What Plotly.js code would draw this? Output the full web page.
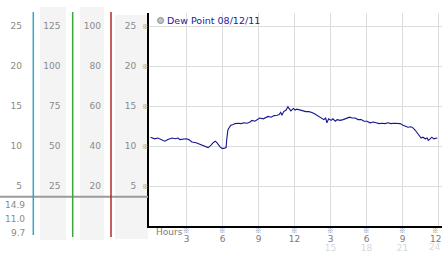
<!DOCTYPE html>
<html>
<head>
<meta charset="utf-8">
<script src="https://cdn.plot.ly/plotly-3.0.1.min.js"></script>
<style>html,body{margin:0;padding:0;background:#fff;}#chart{width:442px;height:253px;}</style>
</head>
<body>
<div id="chart"></div>
<script>
// ---- data ----
const seriesName = "Dew Point 08/12/11";
const hours = [0.0,0.35,0.6,0.95,1.2,1.45,1.8,2.05,2.3,2.45,2.7,2.95,3.2,3.45,3.8,4.1,4.45,4.8,5.05,5.2,5.4,5.55,5.8,5.95,6.1,6.3,6.35,6.45,6.6,6.7,6.9,7.05,7.3,7.55,7.8,8.05,8.3,8.45,8.7,8.95,9.1,9.4,9.6,9.8,10.05,10.3,10.55,10.7,10.85,10.95,11.1,11.3,11.45,11.6,11.7,11.9,12.05,12.2,12.45,12.7,12.95,13.2,13.45,13.7,13.95,14.2,14.45,14.6,14.7,14.85,15.05,15.2,15.4,15.55,15.8,16.05,16.2,16.45,16.6,16.8,17.05,17.3,17.55,17.8,18.05,18.3,18.55,18.8,19.05,19.3,19.55,19.8,20.05,20.3,20.55,20.8,21.05,21.3,21.45,21.7,21.85,22.05,22.2,22.4,22.55,22.7,22.9,23.05,23.15,23.3,23.45,23.6,23.8,23.9];
const dewPoint = [11.1,10.9,11.0,10.8,10.6,10.8,11.0,10.9,11.0,10.8,10.85,10.9,10.8,10.5,10.4,10.2,10.0,9.8,10.1,10.4,10.6,10.4,9.9,9.7,9.7,9.8,10.8,12.0,12.4,12.6,12.7,12.8,12.85,12.8,12.9,12.85,13.0,13.2,13.1,13.3,13.5,13.4,13.6,13.7,13.6,13.8,13.85,13.9,14.2,13.85,14.3,14.5,14.9,14.6,14.4,14.7,14.5,14.6,14.5,14.4,14.3,14.3,14.2,14.0,13.8,13.6,13.3,13.5,12.9,13.4,13.2,13.4,13.1,13.3,13.2,13.3,13.4,13.5,13.6,13.5,13.5,13.3,13.3,13.1,13.1,12.9,13.0,12.9,12.8,12.85,12.8,12.9,12.8,12.85,12.8,12.8,12.6,12.5,12.35,12.4,12.3,12.0,11.7,11.2,11.0,11.1,10.9,11.0,10.7,10.9,11.1,10.9,11.0,11.0];

const hourTicks = [3,6,9,12,15,18,21,24];
const hourLabels = ["3","6","9","12","3","6","9","12"];
const hourTicks24 = [15,18,21,24];
const hourLabels24 = ["15","18","21","24"];
const mainTicks = [5,10,15,20,25];
const col1Ticks = [5,10,15,20,25];
const col2Ticks = [25,50,75,100,125];
const col3Ticks = [20,40,60,80,100];
const summaryLabels = ["14.9","11.0","9.7"];
const xLabel = "Hours";

// ---- geometry helpers (pixels -> paper) ----
const W = 442, H = 253;
const px = x => x / W;
const py = y => 1 - y / H;
const FONT = "DejaVu Sans";
const yMax = 26.625;
const yDom = [py(226), py(13)];

const trace = {
  x: hours, y: dewPoint, name: seriesName, type: "scatter", mode: "lines",
  line: {color: "#16168e", width: 1.1}, showlegend: false, hoverinfo: "skip"
};

function freeY(pos, ticks, factor) {
  return {
    overlaying: "y", anchor: "free", position: pos, side: "left",
    range: [0, yMax * factor], tickvals: ticks, ticktext: ticks.map(String),
    showgrid: false, zeroline: false, showline: false, ticks: "",
    tickfont: {family: FONT, size: 9, color: "#8a8a8a"}, fixedrange: true
  };
}

const xRange = [-1.5 / 12, (442 - 150.5) / 12];
const dark = {family: FONT, size: 9, color: "#7a7a7a"};
const light = {family: FONT, size: 9, color: "#d8d8d8"};
const nMain = hourTicks.length - 1, n24 = hourTicks24.length - 1;
const endShift = -3.5;

const MARK = "\u203b";
const markFont = {family: "Noto Sans CJK JP", size: 6.5, color: "#8c8c8c"};
const annotations = [];
// summary values
const sumY = [204.7, 218.7, 232.7];
summaryLabels.forEach((t, i) => annotations.push({
  text: t, xref: "paper", yref: "paper", x: px(27), y: py(sumY[i]),
  xanchor: "right", yanchor: "middle", showarrow: false,
  font: {family: FONT, size: 9, color: "#8a8a8a"}
}));
// y tick marks
mainTicks.forEach(v => annotations.push({
  text: MARK, xref: "paper", yref: "y", x: px(145.5), y: v,
  xanchor: "center", yanchor: "middle", showarrow: false, font: markFont
}));
// x tick marks
hourTicks.forEach((v, i) => annotations.push({
  text: MARK, xref: "x", yref: "paper", x: v, y: py(229.6), xshift: i === nMain ? endShift : 0,
  xanchor: "center", yanchor: "middle", showarrow: false, font: markFont
}));
// last tick labels, nudged inside the picture edge
annotations.push({
  text: hourLabels[nMain], xref: "x", yref: "paper", x: hourTicks[nMain], y: py(238.8),
  xshift: endShift, xanchor: "center", yanchor: "middle", showarrow: false, font: dark
});
annotations.push({
  text: hourLabels24[n24], xref: "x", yref: "paper", x: hourTicks24[n24], y: py(247.2),
  xshift: endShift, xanchor: "center", yanchor: "middle", showarrow: false, font: light
});
annotations.push({
  text: xLabel, xref: "paper", yref: "paper", x: px(153.5), y: py(232),
  xanchor: "left", yanchor: "middle", showarrow: false,
  font: {family: FONT, size: 9, color: "#7a7a7a"}
});
annotations.push({
  text: seriesName, xref: "paper", yref: "paper", x: px(165), y: py(20.5),
  xanchor: "left", yanchor: "middle", showarrow: false,
  font: {family: FONT, size: 9.5, color: "#1c1ca0"}
});

const shapes = [
  {type: "rect", xref: "paper", yref: "paper", x0: px(40), x1: px(66), y0: py(240), y1: py(7), fillcolor: "#f4f4f4", line: {width: 0}, layer: "below"},
  {type: "rect", xref: "paper", yref: "paper", x0: px(80), x1: px(104), y0: py(240), y1: py(7), fillcolor: "#f4f4f4", line: {width: 0}, layer: "below"},
  {type: "rect", xref: "paper", yref: "paper", x0: px(115), x1: px(148), y0: py(239), y1: py(15), fillcolor: "#f4f4f4", line: {width: 0}, layer: "below"},
  {type: "line", xref: "paper", yref: "paper", x0: px(0), x1: px(148), y0: py(196.7), y1: py(196.7), line: {color: "#9a9a9a", width: 2}},
  {type: "line", xref: "paper", yref: "paper", x0: px(33.3), x1: px(33.3), y0: py(235), y1: py(12), line: {color: "#33a6c8", width: 1.5}},
  {type: "line", xref: "paper", yref: "paper", x0: px(72.7), x1: px(72.7), y0: py(237), y1: py(12), line: {color: "#3aa83a", width: 1.5}},
  {type: "line", xref: "paper", yref: "paper", x0: px(111), x1: px(111), y0: py(237), y1: py(12), line: {color: "#b02a2a", width: 1.5}},
  {type: "circle", xref: "paper", yref: "paper", x0: px(157.6), x1: px(163.6), y0: py(23.5), y1: py(17.5), fillcolor: "#c4c4c4", line: {color: "#8c8c8c", width: 1}}
];

const layout = {
  width: W, height: H, margin: {l: 0, r: 0, t: 0, b: 0, pad: 0},
  paper_bgcolor: "#ffffff", plot_bgcolor: "#ffffff", showlegend: false,
  xaxis: {
    domain: [px(149), 1], range: xRange, tickvals: hourTicks,
    ticktext: hourLabels.map((t, i) => i === nMain ? "" : t),
    showgrid: true, gridcolor: "#dcdcdc", gridwidth: 1, zeroline: false,
    showline: true, linecolor: "#000", linewidth: 2, ticks: "", ticklabelstandoff: 3,
    ticklabeloverflow: "allow", tickfont: dark, fixedrange: true
  },
  xaxis2: {
    overlaying: "x", anchor: "y", side: "bottom", range: xRange,
    tickvals: hourTicks24.slice(0, n24), ticktext: hourLabels24.slice(0, n24),
    showgrid: false, zeroline: false, showline: false, ticks: "", ticklabelstandoff: 15,
    ticklabeloverflow: "allow", tickfont: light, fixedrange: true
  },
  yaxis: {
    domain: yDom, range: [0, yMax], tickvals: mainTicks, ticktext: mainTicks.map(String),
    showgrid: true, gridcolor: "#dcdcdc", gridwidth: 1, zeroline: false,
    showline: true, linecolor: "#000", linewidth: 2, ticks: "", ticklabelstandoff: 9,
    tickfont: {family: FONT, size: 9, color: "#8a8a8a"}, fixedrange: true
  },
  yaxis2: freeY(px(22), col1Ticks, 1),
  yaxis3: freeY(px(60.5), col2Ticks, 5),
  yaxis4: freeY(px(101), col3Ticks, 4),
  shapes: shapes, annotations: annotations
};

const dummies = [["x2","y"],["x","y2"],["x","y3"],["x","y4"]]
  .map(([xa, ya]) => ({x: [], y: [], xaxis: xa, yaxis: ya, type: "scatter", showlegend: false}));

Plotly.newPlot("chart", [trace].concat(dummies), layout, {staticPlot: true, displayModeBar: false});
</script>
</body>
</html>
